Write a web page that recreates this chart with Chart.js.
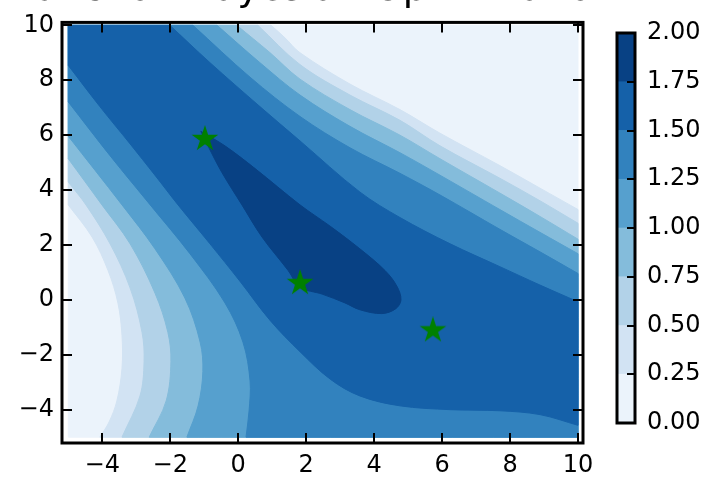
<!DOCTYPE html>
<html>
<head>
<meta charset="utf-8">
<script src="https://cdn.jsdelivr.net/npm/chart.js@4.4.1/dist/chart.umd.min.js"></script>
<style>
  html, body { margin: 0; padding: 0; background: #fff; }
  #wrap { position: relative; width: 708px; height: 477px; overflow: hidden; }
  #main { position: absolute; left: 0; top: 0; }
  #cbar { position: absolute; left: 600px; top: 0; }
</style>
</head>
<body>
<div id="wrap">
  <canvas id="main" width="708" height="477"></canvas>
  <canvas id="cbar" width="108" height="477"></canvas>
</div>
<script>
const titleText = "Branin Function Bayesian Optimization"
const xTicks = [-4, -2, 0, 2, 4, 6, 8, 10]
const yTicks = [-4, -2, 0, 2, 4, 6, 8, 10]
const xRange = [-5, 10]
const yRange = [-5, 10]
const levels = [0, 0.25, 0.5, 0.75, 1, 1.25, 1.5, 1.75, 2]
const bandColors = ['#ebf3fb', '#d2e3f3', '#b2d2e8', '#84bcdb', '#56a0ce', '#3282be', '#1561a9', '#084184']

// contour lines, [x, y]
// lower-left ones run from the left edge down to the bottom (or right) edge
const low025 = [[-5, 3.46], [-4.30, 2.29], [-3.83, 1.07], [-3.54, -0.11], [-3.42, -1.29], [-3.42, -2.5], [-3.57, -3.68], [-3.8, -4.45], [-4.07, -5]]
const low050 = [[-5, 4.29], [-4.48, 3.46], [-3.77, 2.04], [-3.18, 0.43], [-2.83, -1.18], [-2.77, -2.25], [-2.89, -3.5], [-3.42, -5]]
const low075 = [[-5, 5.14], [-4.01, 3.46], [-3.18, 2.04], [-2.45, 0.25], [-2.07, -1.18], [-1.98, -2.25], [-2.12, -3.68], [-2.62, -5]]
const low100 = [[-5, 5.96], [-3.42, 3.46], [-2.45, 1.86], [-1.57, 0.07], [-1.12, -1.54], [-1.04, -2.61], [-1.18, -3.86], [-1.51, -5]]
const low125 = [[-5, 7.21], [-3.77, 5.25], [-2.59, 3.46], [-1.42, 1.68], [-0.39, -0.11], [0.14, -1.54], [0.35, -2.96], [0.32, -4.04], [0.23, -5]]
const low150 = [[-5, 8.54], [-4.07, 7.04], [-3.18, 5.68], [-2.45, 4.54], [-1.77, 3.46], [-0.83, 2.04], [0.05, 0.68], [0.94, -0.75], [1.82, -1.89], [2.71, -2.89], [3.58, -3.5], [4.76, -3.86], [6.24, -4.0], [7.70, -4.04], [8.88, -4.18], [10, -4.57]]

// upper-right ones run from the top edge to the right edge
const up025 = [[0.97, 10], [1.38, 9.54], [1.82, 9.0], [3.29, 7.86], [4.76, 6.93], [5.94, 6.07], [7.70, 4.89], [8.88, 4.07], [10, 3.29]]
const up050 = [[0.58, 10], [1.82, 8.57], [3.29, 7.46], [4.76, 6.54], [5.94, 5.61], [7.70, 4.43], [8.88, 3.61], [10, 2.79]]
const up075 = [[-0.04, 10], [0.94, 9.0], [1.82, 8.04], [3.29, 6.93], [4.76, 6.0], [5.94, 5.14], [7.70, 3.89], [8.88, 3.04], [10, 2.21]]
const up100 = [[-0.62, 10], [0.64, 8.64], [1.82, 7.46], [3.29, 6.32], [4.76, 5.36], [5.94, 4.54], [7.70, 3.29], [8.88, 2.46], [10, 1.68]]
const up125 = [[-1.33, 10], [0.35, 8.11], [1.82, 6.68], [3.29, 5.54], [4.76, 4.61], [5.94, 3.82], [7.70, 2.57], [8.88, 1.75], [10, 0.96]]
const up150 = [[-2.01, 10], [-0.83, 8.64], [0.64, 7.04], [1.82, 5.79], [3.58, 3.93], [4.76, 3.0], [6.24, 2.04], [7.70, 1.21], [8.88, 0.54], [10, -0.07]]

// closed 1.75 contour (the dark valley)
const ring175 = [[-1.10, 6.14], [-0.39, 5.61], [0.49, 4.79], [1.82, 3.46], [2.71, 2.68], [3.58, 1.86], [4.32, 1.07], [4.67, 0.5], [4.79, 0.0], [4.64, -0.32], [4.23, -0.5], [3.58, -0.36], [3.14, -0.11], [2.47, 0.21], [1.82, 0.46], [1.47, 1.07], [0.70, 2.29], [0.11, 3.46], [-0.48, 4.64], [-0.89, 5.61], [-1.10, 6.14]]

const starX = [-0.98, 1.82, 5.73]
const starY = [5.86, 0.61, -1.11]

Chart.defaults.font.family = '"DejaVu Sans", sans-serif'
Chart.defaults.color = '#000'

function onEdge(p) {
    return p[0] === xRange[0] || p[0] === xRange[1] || p[1] === yRange[0] || p[1] === yRange[1]
}

// points on the plot edge are doubled so the smoothing keeps the edges straight
function toXY(pts) {
    let out = []
    pts.forEach(p => {
        out.push({ x: p[0], y: p[1] })
        if (onEdge(p)) out.push({ x: p[0], y: p[1] })
    })
    return out
}

// superlevel region: everything between the lower-left and upper-right line
function region(lower, upper) {
    let pts = lower.slice()
    let last = pts[pts.length - 1]
    if (last[1] === yRange[0]) pts.push([xRange[1], yRange[0]])
    upper.slice().reverse().forEach(p => pts.push(p))
    pts.push([xRange[0], yRange[1]])
    pts.push(lower[0])
    return toXY(pts)
}

function starImage(size, color) {
    const c = document.createElement('canvas')
    c.width = size
    c.height = size
    const g = c.getContext('2d')
    const r = size / 2, ri = r * 0.382
    g.beginPath()
    for (let i = 0; i < 10; i++) {
        const a = -Math.PI / 2 + i * Math.PI / 5
        const rr = i % 2 ? ri : r
        g.lineTo(r + rr * Math.cos(a), r + rr * Math.sin(a))
    }
    g.closePath()
    g.fillStyle = color
    g.fill()
    return c
}

const fmt = v => v < 0 ? '\u2212' + (-v) : String(v)

const baseRect = toXY([[xRange[0], yRange[0]], [xRange[1], yRange[0]], [xRange[1], yRange[1]], [xRange[0], yRange[1]], [xRange[0], yRange[0]]])
const shapes = [
    baseRect,
    region(low025, up025),
    region(low050, up050),
    region(low075, up075),
    region(low100, up100),
    region(low125, up125),
    region(low150, up150),
    toXY(ring175)
]

const datasets = shapes.map((pts, i) => ({
    data: pts,
    showLine: true,
    fill: 'shape',
    backgroundColor: bandColors[i],
    borderColor: bandColors[i],
    borderWidth: 1,
    pointRadius: 0,
    tension: 0.35,
    order: 20 - i
}))
datasets.push({
    data: starX.map((x, i) => ({ x: x, y: starY[i] })),
    pointStyle: starImage(28, '#008000'),
    pointRadius: 14,
    showLine: false,
    order: 0
})

const frame = {
    id: 'frame',
    afterDraw(chart) {
        const { ctx, chartArea: a } = chart
        const xs = chart.scales.x, ys = chart.scales.y
        ctx.save()
        ctx.strokeStyle = '#000'
        ctx.lineWidth = 2
        ctx.beginPath()
        xTicks.forEach(v => {
            const p = Math.round(xs.getPixelForValue(v))
            ctx.moveTo(p, a.bottom); ctx.lineTo(p, a.bottom - 10)
            ctx.moveTo(p, a.top); ctx.lineTo(p, a.top + 10)
        })
        yTicks.forEach(v => {
            const p = Math.round(ys.getPixelForValue(v))
            ctx.moveTo(a.left, p); ctx.lineTo(a.left + 10, p)
            ctx.moveTo(a.right, p); ctx.lineTo(a.right - 10, p)
        })
        ctx.stroke()
        ctx.lineWidth = 3
        ctx.strokeRect(a.left, a.top, a.right - a.left, a.bottom - a.top)
        // title sits mostly above the canvas, only its bottom shows
        ctx.font = '38px "DejaVu Sans"'
        ctx.textAlign = 'right'
        ctx.textBaseline = 'alphabetic'
        ctx.fillStyle = '#000'
        ctx.fillText(titleText, 616, 0)
        ctx.restore()
    }
}

new Chart(document.getElementById('main'), {
    type: 'scatter',
    data: { datasets: datasets },
    options: {
        responsive: false,
        animation: false,
        layout: { padding: { top: 14, right: 125, left: 0, bottom: 0 } },
        plugins: { legend: { display: false }, tooltip: { enabled: false } },
        scales: {
            x: {
                type: 'linear', min: -5.185, max: 10.147,
                grid: { display: false, drawTicks: false },
                border: { display: false },
                ticks: { padding: 8, font: { size: 24 }, color: '#000', maxRotation: 0, autoSkip: false, callback: fmt },
                afterBuildTicks: s => { s.ticks = xTicks.map(v => ({ value: v })) },
                afterFit: s => { s.height = 34 }
            },
            y: {
                type: 'linear', min: -5.214, max: 10.107,
                grid: { display: false, drawTicks: false },
                border: { display: false },
                ticks: { padding: 8, font: { size: 24 }, color: '#000', autoSkip: false, callback: fmt },
                afterBuildTicks: s => { s.ticks = yTicks.map(v => ({ value: v })) },
                afterFit: s => { s.width = 62 }
            }
        }
    },
    plugins: [frame]
})

// colorbar
const cbFrame = {
    id: 'cbFrame',
    afterDraw(chart) {
        const { ctx, chartArea: a } = chart
        const ys = chart.scales.y
        ctx.save()
        ctx.strokeStyle = '#000'
        ctx.lineWidth = 2
        ctx.beginPath()
        levels.slice(1, -1).forEach(v => {
            const p = Math.round(ys.getPixelForValue(v))
            ctx.moveTo(a.right, p); ctx.lineTo(a.right - 8, p)
        })
        ctx.stroke()
        ctx.lineWidth = 3
        ctx.strokeRect(a.left, a.top, a.right - a.left, a.bottom - a.top)
        ctx.restore()
    }
}

new Chart(document.getElementById('cbar'), {
    type: 'bar',
    data: {
        labels: [''],
        datasets: bandColors.map((c, i) => ({
            data: [levels[i + 1] - levels[i]],
            backgroundColor: c,
            borderWidth: 0,
            barPercentage: 1,
            categoryPercentage: 1,
            stack: 'cb'
        }))
    },
    options: {
        responsive: false,
        animation: false,
        layout: { padding: { left: 17, top: 33, bottom: 54, right: 0 } },
        plugins: { legend: { display: false }, tooltip: { enabled: false } },
        scales: {
            x: { display: false, stacked: true },
            y: {
                position: 'right', stacked: true, min: 0, max: 2,
                grid: { display: false, drawTicks: false },
                border: { display: false },
                ticks: { padding: 12, font: { size: 24 }, color: '#000', callback: v => v.toFixed(2) },
                afterBuildTicks: s => { s.ticks = levels.map(v => ({ value: v })) },
                afterFit: s => { s.width = 73 }
            }
        }
    },
    plugins: [cbFrame]
})
</script>
</body>
</html>
